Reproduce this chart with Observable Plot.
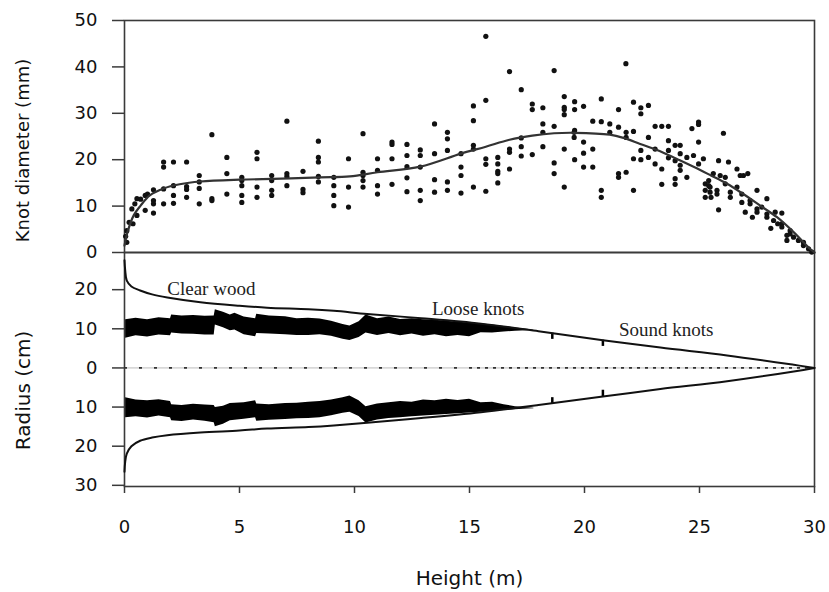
<!DOCTYPE html>
<html><head><meta charset="utf-8">
<script src="https://cdn.jsdelivr.net/npm/d3@7"></script>
<script src="https://cdn.jsdelivr.net/npm/@observablehq/plot@0.6"></script>
<style>
html,body{margin:0;padding:0;background:#fff;}
#chart{position:relative;width:829px;height:592px;background:#fff;}
#chart svg{position:absolute;left:0;overflow:visible;}
</style></head><body><div id="chart"></div>
<script>
// ---------- DATA ----------
const xTicks = [0, 5, 10, 15, 20, 25, 30];
const diameterTicks = [0, 10, 20, 30, 40, 50];
const radiusTicks = [20, 10, 0, -10, -20, -30];

// Knot diameter observations (height m, diameter mm)
const knotHeight = [
 0.05,0.1,0.1,0.2,0.37,0.54,0.32,0.45,0.9,1.26,0.54,0.7,0.9,1.0,1.26,1.26,1.26,1.7,1.7,1.7,1.7,2.13,2.7,2.13,2.13,2.13,2.7,2.7,2.7,
 3.25,3.25,3.25,3.25,3.8,3.8,3.8,4.45,4.45,4.45,5.1,5.1,5.1,5.1,5.1,5.76,5.76,5.76,5.76,6.4,6.4,6.4,6.4,
 7.06,7.06,7.06,7.06,7.76,7.76,7.76,8.43,8.43,8.43,8.43,8.43,9.1,9.1,9.1,9.1,9.74,9.74,9.74,
 10.37,10.37,10.37,10.37,10.37,11.0,11.0,11.0,11.0,11.63,11.63,11.63,11.63,12.28,12.28,12.28,12.28,12.28,
 12.86,12.86,12.86,12.86,12.86,13.48,13.48,13.48,13.48,14.04,14.04,14.04,14.04,14.04,14.63,14.63,14.63,14.63,
 15.17,15.17,15.17,15.17,15.17,15.71,15.71,15.71,15.71,15.71,16.23,16.23,16.23,16.23,16.23,16.74,16.74,16.74,16.74,
 17.25,17.25,17.25,17.25,17.73,17.73,17.73,18.19,18.19,18.19,18.19,18.68,18.68,18.68,18.68,
 19.12,19.12,19.12,19.12,19.12,19.12,19.57,19.57,19.57,19.57,19.55,19.55,
 21.8,19.96,19.96,19.96,19.96,20.36,20.36,20.36,20.73,20.73,20.73,20.73,21.1,21.1,21.48,21.48,21.48,21.48,
 21.81,21.81,21.81,22.13,22.13,22.13,22.13,22.45,22.45,22.45,22.45,22.78,22.78,22.78,23.07,23.07,23.07,
 23.36,23.36,23.36,23.65,23.65,23.65,23.65,23.94,23.94,23.94,23.94,24.16,24.16,24.16,24.16,24.45,24.45,24.67,24.74,
 24.96,24.96,24.96,24.96,25.17,25.25,25.25,25.25,25.46,25.46,25.76,25.76,25.83,25.83,26.04,26.12,26.12,26.26,
 26.34,26.34,26.63,26.63,26.77,26.91,27.1,26.84,26.84,27.2,27.2,27.5,27.5,27.5,27.71,27.93,27.93,27.93,28.22,28.29,
 28.58,28.58,28.58,28.94,28.94,29.09,29.3,29.52,29.52,29.74,29.88,28.8,28.8,28.4,28.1,25.9,25.6,25.4,25.4,25.5,26.99,27.3
];
const knotDiameter = [
 3.5,2.2,4.7,6.5,6.2,8.0,9.4,10.5,9.1,8.5,11.6,11.5,12.3,12.6,11.2,10.5,13.5,13.7,10.5,19.5,18.4,19.5,19.5,14.4,12.3,10.6,14.2,13.6,11.9,
 16.6,15.2,13.8,10.5,25.4,11.6,11.2,20.5,17.0,12.6,16.2,15.5,14.4,12.3,10.8,21.6,20.2,14.1,11.9,16.6,15.5,13.4,12.3,
 28.3,17.0,16.4,14.4,17.5,13.6,12.9,24.0,20.5,19.5,16.4,15.2,16.2,14.4,12.3,10.1,20.2,14.1,9.8,
 25.6,17.3,16.6,15.5,14.1,20.2,17.7,14.4,12.6,23.8,23.3,20.2,14.7,23.3,20.9,18.5,16.1,13.1,
 22.1,20.9,18.4,13.4,11.2,27.7,21.3,15.7,13.0,25.9,24.5,22.0,15.2,13.4,21.3,18.4,16.6,12.8,
 31.6,28.4,23.1,22.3,14.1,46.6,32.8,20.2,19.0,13.2,20.5,19.1,17.5,17.0,15.0,39.0,22.3,21.6,18.0,
 35.1,24.7,22.8,20.8,32.0,30.8,21.1,31.2,27.7,25.9,22.8,39.2,27.2,19.3,17.0,
 33.6,31.3,30.8,29.7,22.3,14.1,32.5,30.8,26.3,20.0,25.9,24.8,
 40.7,31.5,23.8,21.4,18.4,28.3,22.3,18.4,33.1,28.2,13.4,11.9,27.7,25.9,30.8,27.0,17.0,16.2,
 25.9,24.8,17.3,32.4,26.1,20.2,13.4,31.2,29.9,22.0,20.0,31.7,24.8,20.5,27.2,22.3,19.1,
 27.2,18.0,14.7,27.2,24.1,22.0,20.4,23.1,19.8,15.9,14.7,23.1,21.3,18.8,17.7,20.5,16.2,26.7,20.9,
 28.1,27.6,23.8,19.1,20.2,14.8,13.4,11.9,14.1,13.0,13.4,12.6,9.2,19.8,25.7,16.2,14.8,19.5,
 13.0,11.9,18.0,14.1,16.6,16.6,17.0,12.6,10.8,11.2,10.5,13.4,9.4,8.7,9.8,11.6,8.3,7.6,6.9,8.7,
 8.5,6.2,5.5,4.7,4.0,3.3,2.6,2.2,1.5,0.8,0.1,3.7,2.6,6.2,5.2,16.6,17.0,15.5,14.4,11.9,8.7,7.6
];

// Fitted knot diameter curve
const fitHeight = [0,0.15,0.4,0.7,1.1,1.7,2.4,3.3,5.0,6.8,8.5,9.8,11.0,12.86,14.63,15.71,16.74,17.73,18.68,19.57,21.1,21.7,22.42,23.15,24.0,24.74,25.5,26.2,26.9,27.64,28.37,29.09,29.8,30];
const fitDiameter = [1.5,4.7,8.0,10.1,12.3,13.8,14.7,15.3,15.7,15.9,16.2,16.4,17.3,18.5,21.3,22.8,24.3,25.2,25.7,25.8,25.4,24.7,23.4,22.1,20.2,18.5,16.6,14.8,12.6,10.1,7.6,4.4,0.8,0];

// Stem outline (radius, cm)
const stemHeight = [0,0.03,0.1,0.3,0.68,1.2,1.86,3.3,5,6.2,8,9.1,10.55,12.9,15.5,18,20.8,23.3,26.2,29.1,30];
const stemUpper = [27.5,25,22.3,20.8,19.8,18.8,18.0,16.8,15.9,15.4,15.0,14.6,13.8,12.7,11.3,9.4,7.1,5.2,3.2,0.8,0];
const stemLower = [-26.5,-24,-21.9,-20.0,-18.6,-17.8,-17.2,-16.5,-16.0,-15.5,-15.1,-14.7,-14.0,-12.8,-11.3,-9.5,-7.3,-5.4,-3.4,-0.9,0];

// Loose-knot zone: outer and inner radius on each side
const looseHeight = [0.05,0.5,1.0,1.5,2.0,2.05,2.5,3.0,3.5,3.9,3.95,4.3,4.6,4.8,5.2,5.7,5.75,6.3,7.0,7.5,8.0,8.5,9.0,9.5,9.8,10.2,10.5,11.0,11.5,12.0,12.5,13.0,13.5,14.0,14.5,15.0,15.5,16.0,16.5,17.0,17.5,17.8];
const looseUpperOuter = [12.3,12.7,12.3,12.8,12.6,13.5,13.3,13.4,13.2,13.3,14.9,14.2,13.5,14.0,13.0,12.6,13.7,13.3,13.1,12.6,12.7,12.5,11.9,11.1,10.7,11.8,13.5,12.6,13.0,12.4,12.6,12.3,12.2,11.9,11.7,11.5,11.3,11.0,10.6,10.2,9.9,9.7];
const looseUpperInner = [7.6,8.2,7.9,8.4,8.2,8.9,8.7,8.6,8.4,8.4,11.0,10.3,9.5,9.7,8.5,8.0,8.8,8.7,8.5,8.3,8.3,8.5,8.1,7.3,7.0,7.8,8.9,8.3,8.8,8.2,8.7,8.1,8.5,8.0,8.3,8.0,9.0,8.9,9.2,9.4,9.5,9.6];
const looseLowerInner = [-7.6,-8.2,-8.4,-8.1,-8.6,-9.4,-9.6,-9.3,-9.5,-9.6,-10.1,-9.8,-9.1,-9.0,-8.9,-8.4,-9.2,-9.4,-9.1,-9.0,-8.8,-8.6,-8.2,-7.6,-7.2,-8.4,-9.9,-9.2,-8.9,-8.6,-8.8,-8.2,-8.4,-8.0,-8.3,-8.0,-8.9,-8.8,-9.4,-9.9,-10.2,-10.3];
const looseLowerOuter = [-12.7,-12.5,-12.8,-12.3,-12.7,-13.5,-13.7,-13.3,-13.6,-14.0,-15.0,-14.4,-13.5,-13.4,-13.1,-12.7,-13.6,-13.4,-13.2,-13.0,-12.9,-12.7,-12.2,-11.6,-11.3,-12.4,-14.1,-13.3,-12.9,-12.7,-12.5,-12.3,-12.1,-11.9,-11.7,-11.5,-11.3,-11.1,-10.9,-10.7,-10.5,-10.4];

// Isolated sound-knot marks
const soundHeight = [18.6, 20.8];
const soundUpperTop = [8.9, 7.1];
const soundUpperBottom = [7.3, 5.5];
const soundLowerTop = [-7.6, -5.7];
const soundLowerBottom = [-9.1, -7.4];

// Centre line (pith) segments: sparse dots, then dense dots
const pithStart = [0, 15];
const pithEnd = [15, 30];

const zoneLabels = ["Clear wood", "Loose knots", "Sound knots"];
const zoneLabelHeight = [1.86, 13.37, 21.5];
const zoneLabelRadius = [20.3, 15.2, 9.8];

// ---------- BUILD ----------
const knots = knotHeight.map((h, i) => ({h, d: knotDiameter[i]}));
const fit = fitHeight.map((h, i) => ({h, d: fitDiameter[i]}));
const stem = stemHeight.map((h, i) => ({h, up: stemUpper[i], lo: stemLower[i]}));
const loose = looseHeight.map((h, i) => ({h, uo: looseUpperOuter[i], ui: looseUpperInner[i], li: looseLowerInner[i], lo: looseLowerOuter[i]}));
const sound = soundHeight.map((h, i) => ({h, ut: soundUpperTop[i], ub: soundUpperBottom[i], lt: soundLowerTop[i], lb: soundLowerBottom[i]}));
const pith = pithStart.map((s, i) => ({s, e: pithEnd[i]}));
const zones = zoneLabels.map((t, i) => ({t, h: zoneLabelHeight[i], r: zoneLabelRadius[i]}));

const FONT = "DejaVu Sans";
const INK = "#111";
const FRAME = "#3a3a3a";

const topPlot = Plot.plot({
  width: 829, height: 252,
  marginTop: 20, marginBottom: 0, marginLeft: 124, marginRight: 15,
  style: {fontFamily: FONT, fontSize: "18px", color: INK, background: "transparent", overflow: "visible"},
  x: {domain: [0, 30], axis: null},
  y: {domain: [0, 50]},
  marks: [
    Plot.axisY(diameterTicks, {anchor: "left", tickSize: 12, tickPadding: 15, label: null, stroke: FRAME, strokeWidth: 1.5}),
    Plot.frame({stroke: FRAME, strokeWidth: 1.6}),
    Plot.dot(knots, {x: "h", y: "d", r: 2.6, fill: "#111", stroke: "none"}),
    Plot.line(fit, {x: "h", y: "d", curve: "catmull-rom", stroke: "#333", strokeWidth: 2.2}),
    Plot.text(["Knot diameter (mm)"], {frameAnchor: "left", rotate: -90, dx: -101, dy: 14, fontSize: 18, fill: INK, textAnchor: "middle", lineAnchor: "middle"})
  ]
});

const bottomPlot = Plot.plot({
  width: 829, height: 340,
  marginTop: 0, marginBottom: 106, marginLeft: 124, marginRight: 15,
  style: {fontFamily: FONT, fontSize: "18px", color: INK, background: "transparent", overflow: "visible"},
  x: {domain: [0, 30]},
  y: {domain: [-30.3, 29.5]},
  marks: [
    Plot.axisY(radiusTicks, {anchor: "left", tickSize: 12, tickPadding: 15, tickFormat: d => Math.abs(d), label: null, stroke: FRAME, strokeWidth: 1.5}),
    Plot.axisX(xTicks, {anchor: "bottom", tickSize: 7, tickPadding: 27, label: null, stroke: FRAME, strokeWidth: 1.5}),
    Plot.frame({stroke: FRAME, strokeWidth: 1.6}),
    Plot.ruleY([0], {stroke: "#aaa", strokeWidth: 0.8}),
    Plot.ruleY(pith.slice(0, 1), {x1: "s", x2: "e", y: 0, stroke: "#333", strokeWidth: 1.8, strokeDasharray: "3,12"}),
    Plot.ruleY(pith.slice(1), {x1: "s", x2: "e", y: 0, stroke: "#333", strokeWidth: 1.8, strokeDasharray: "3,5"}),
    Plot.areaY(loose, {x: "h", y1: "ui", y2: "uo", fill: "#000", curve: "linear"}),
    Plot.areaY(loose, {x: "h", y1: "lo", y2: "li", fill: "#000", curve: "linear"}),
    Plot.ruleX(sound, {x: "h", y1: "ub", y2: "ut", stroke: "#000", strokeWidth: 2.5}),
    Plot.ruleX(sound, {x: "h", y1: "lb", y2: "lt", stroke: "#000", strokeWidth: 2.5}),
    Plot.line(stem, {x: "h", y: "up", curve: "catmull-rom", stroke: "#111", strokeWidth: 2}),
    Plot.line(stem, {x: "h", y: "lo", curve: "catmull-rom", stroke: "#111", strokeWidth: 2}),
    Plot.text(zones, {x: "h", y: "r", text: "t", textAnchor: "start", fontFamily: "Liberation Serif", fontSize: 19, fill: "#222"}),
    Plot.text(["Radius (cm)"], {frameAnchor: "left", rotate: -90, dx: -101, dy: 21, fontSize: 20, fill: INK, textAnchor: "middle", lineAnchor: "middle"}),
    Plot.text(["Height (m)"], {frameAnchor: "bottom", dy: 92, fontSize: 20, fill: INK, textAnchor: "middle", lineAnchor: "middle"})
  ]
});

const chart = document.getElementById("chart");
bottomPlot.style.top = "252px";
bottomPlot.style.zIndex = "1";
topPlot.style.top = "0px";
topPlot.style.zIndex = "2";
chart.appendChild(bottomPlot);
chart.appendChild(topPlot);
</script></body></html>
